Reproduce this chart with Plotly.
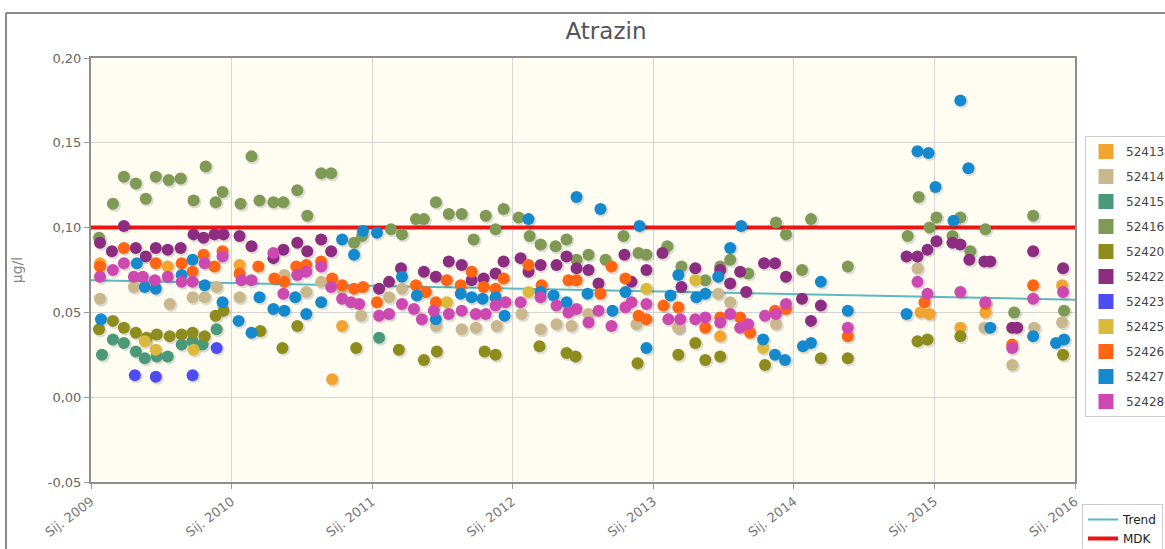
import plotly.graph_objects as go
from datetime import datetime, timedelta

# ---------------- data (fractional year, value in µg/l) ----------------
series_names = ["52413", "52414", "52415", "52416", "52420", "52422",
                "52423", "52425", "52426", "52427", "52428"]

t_52413 = [2009.064, 2009.546, 2010.057, 2010.716, 2010.787, 2013.177, 2013.475,
           2014.901, 2014.965, 2015.184, 2015.362, 2015.908]
v_52413 = [0.079, 0.077, 0.078, 0.0106, 0.042, 0.041, 0.036,
           0.050, 0.049, 0.041, 0.050, 0.066]

t_52414 = [2009.064, 2009.305, 2009.560, 2009.723, 2009.809, 2009.894, 2010.057, 2010.376,
           2010.532, 2010.638, 2010.787, 2010.922, 2011.121, 2011.213, 2011.454, 2011.638,
           2011.738, 2011.887, 2012.064, 2012.199, 2012.312, 2012.418, 2012.539, 2012.879,
           2013.177, 2013.461, 2013.546, 2013.872, 2014.879, 2015.355, 2015.553, 2015.709,
           2015.908]
v_52414 = [0.058, 0.065, 0.055, 0.059, 0.059, 0.065, 0.059, 0.072,
           0.062, 0.068, 0.064, 0.048, 0.059, 0.064, 0.042, 0.040,
           0.041, 0.042, 0.049, 0.040, 0.043, 0.042, 0.049, 0.043,
           0.041, 0.061, 0.056, 0.043, 0.076, 0.041, 0.019, 0.041,
           0.044]

t_52415 = [2009.078, 2009.156, 2009.234, 2009.319, 2009.383, 2009.468, 2009.546,
           2009.645, 2009.723, 2009.794, 2009.894, 2011.050]
v_52415 = [0.025, 0.034, 0.032, 0.027, 0.023, 0.024, 0.024,
           0.031, 0.033, 0.031, 0.040, 0.035]

t_52416 = [2009.057, 2009.156, 2009.234, 2009.319, 2009.390, 2009.461, 2009.553, 2009.638,
           2009.730, 2009.816, 2009.887, 2009.936, 2010.064, 2010.142, 2010.199, 2010.298,
           2010.369, 2010.468, 2010.539, 2010.638, 2010.709, 2010.872, 2010.929, 2011.135,
           2011.213, 2011.312, 2011.369, 2011.454, 2011.546, 2011.638, 2011.723, 2011.809,
           2011.879, 2011.936, 2012.043, 2012.121, 2012.199, 2012.305, 2012.383, 2012.454,
           2012.539, 2012.660, 2012.787, 2012.894, 2012.950, 2013.099, 2013.199, 2013.369,
           2013.475, 2013.546, 2013.674, 2013.872, 2013.943, 2014.057, 2014.121, 2014.383,
           2014.809, 2014.887, 2014.965, 2015.014, 2015.128, 2015.184, 2015.255, 2015.362,
           2015.567, 2015.702, 2015.922]
v_52416 = [0.094, 0.114, 0.130, 0.126, 0.117, 0.130, 0.128, 0.129,
           0.116, 0.136, 0.115, 0.121, 0.114, 0.142, 0.116, 0.115,
           0.115, 0.122, 0.107, 0.132, 0.132, 0.091, 0.095, 0.099,
           0.096, 0.105, 0.105, 0.115, 0.108, 0.108, 0.093, 0.107,
           0.099, 0.111, 0.106, 0.095, 0.090, 0.089, 0.093, 0.081,
           0.084, 0.081, 0.095, 0.085, 0.084, 0.089, 0.077, 0.069,
           0.077, 0.081, 0.073, 0.103, 0.096, 0.075, 0.105, 0.077,
           0.095, 0.118, 0.100, 0.106, 0.095, 0.106, 0.086, 0.099,
           0.050, 0.107, 0.051]

t_52420 = [2009.057, 2009.156, 2009.234, 2009.319, 2009.397, 2009.468, 2009.560, 2009.645,
           2009.723, 2009.809, 2009.887, 2009.943, 2010.206, 2010.362, 2010.468, 2010.887,
           2011.191, 2011.369, 2011.461, 2011.801, 2011.879, 2012.191, 2012.383, 2012.447,
           2012.887, 2013.177, 2013.298, 2013.369, 2013.475, 2013.794, 2014.191, 2014.383,
           2014.879, 2014.950, 2015.184, 2015.915]
v_52420 = [0.040, 0.045, 0.041, 0.038, 0.035, 0.037, 0.036, 0.037,
           0.038, 0.036, 0.048, 0.051, 0.039, 0.029, 0.042, 0.029,
           0.028, 0.022, 0.027, 0.027, 0.025, 0.030, 0.026, 0.024,
           0.020, 0.025, 0.032, 0.022, 0.024, 0.019, 0.023, 0.023,
           0.033, 0.034, 0.036, 0.025]

t_52422 = [2009.064, 2009.149, 2009.234, 2009.319, 2009.390, 2009.461, 2009.546, 2009.638,
           2009.730, 2009.801, 2009.879, 2009.943, 2010.057, 2010.142, 2010.298, 2010.369,
           2010.468, 2010.539, 2010.638, 2010.709, 2011.050, 2011.121, 2011.206, 2011.369,
           2011.454, 2011.546, 2011.638, 2011.709, 2011.794, 2011.879, 2011.936, 2012.057,
           2012.113, 2012.199, 2012.312, 2012.383, 2012.454, 2012.539, 2012.610, 2012.794,
           2012.844, 2012.950, 2013.064, 2013.199, 2013.298, 2013.475, 2013.546, 2013.617,
           2013.660, 2013.787, 2013.865, 2013.943, 2014.057, 2014.121, 2014.191, 2014.801,
           2014.879, 2014.950, 2015.014, 2015.128, 2015.184, 2015.248, 2015.355, 2015.397,
           2015.553, 2015.589, 2015.702, 2015.915]
v_52422 = [0.091, 0.086, 0.101, 0.088, 0.083, 0.088, 0.087, 0.088,
           0.096, 0.094, 0.096, 0.096, 0.095, 0.089, 0.082, 0.087,
           0.091, 0.086, 0.093, 0.086, 0.064, 0.068, 0.076, 0.074,
           0.071, 0.080, 0.078, 0.069, 0.070, 0.073, 0.080, 0.082,
           0.074, 0.078, 0.078, 0.083, 0.076, 0.075, 0.067, 0.084,
           0.068, 0.075, 0.085, 0.065, 0.076, 0.075, 0.067, 0.074,
           0.062, 0.079, 0.079, 0.071, 0.058, 0.045, 0.054, 0.083,
           0.083, 0.087, 0.092, 0.091, 0.090, 0.081, 0.080, 0.080,
           0.041, 0.041, 0.086, 0.076]

t_52423 = [2009.312, 2009.461, 2009.723, 2009.894]
v_52423 = [0.013, 0.012, 0.013, 0.029]

t_52425 = [2009.383, 2009.461, 2009.730, 2011.532, 2012.113, 2012.950, 2013.298, 2013.780]
v_52425 = [0.033, 0.028, 0.028, 0.056, 0.062, 0.064, 0.069, 0.029]

t_52426 = [2009.064, 2009.234, 2009.461, 2009.645, 2009.723, 2009.801, 2009.879, 2009.936,
           2010.057, 2010.191, 2010.305, 2010.376, 2010.461, 2010.532, 2010.638, 2010.716,
           2010.787, 2010.872, 2010.936, 2011.035, 2011.312, 2011.383, 2011.454, 2011.532,
           2011.631, 2011.709, 2011.794, 2011.879, 2011.936, 2012.113, 2012.206, 2012.397,
           2012.454, 2012.624, 2012.702, 2012.801, 2012.894, 2012.950, 2013.071, 2013.177,
           2013.369, 2013.475, 2013.617, 2013.688, 2013.865, 2013.943, 2014.383, 2014.929,
           2015.362, 2015.553, 2015.702]
v_52426 = [0.077, 0.088, 0.079, 0.079, 0.074, 0.084, 0.077, 0.086,
           0.073, 0.077, 0.070, 0.068, 0.077, 0.078, 0.080, 0.070,
           0.066, 0.064, 0.065, 0.056, 0.066, 0.062, 0.056, 0.069,
           0.066, 0.074, 0.065, 0.064, 0.070, 0.078, 0.066, 0.069,
           0.069, 0.061, 0.077, 0.070, 0.048, 0.046, 0.054, 0.053,
           0.041, 0.047, 0.047, 0.038, 0.051, 0.052, 0.036, 0.056,
           0.055, 0.031, 0.066]

t_52427 = [2009.071, 2009.326, 2009.383, 2009.461, 2009.645, 2009.723, 2009.809, 2009.936,
           2010.050, 2010.142, 2010.199, 2010.298, 2010.376, 2010.454, 2010.532, 2010.638,
           2010.787, 2010.872, 2010.936, 2011.035, 2011.213, 2011.319, 2011.454, 2011.631,
           2011.709, 2011.787, 2011.879, 2011.943, 2012.113, 2012.199, 2012.291, 2012.383,
           2012.454, 2012.532, 2012.624, 2012.709, 2012.801, 2012.901, 2012.950, 2013.121,
           2013.177, 2013.305, 2013.369, 2013.461, 2013.546, 2013.624, 2013.780, 2013.865,
           2013.936, 2014.064, 2014.121, 2014.191, 2014.383, 2014.801, 2014.879, 2014.957,
           2015.007, 2015.135, 2015.184, 2015.241, 2015.397, 2015.702, 2015.865, 2015.922]
v_52427 = [0.046, 0.079, 0.065, 0.064, 0.072, 0.081, 0.066, 0.056,
           0.045, 0.038, 0.059, 0.052, 0.051, 0.059, 0.049, 0.056,
           0.093, 0.084, 0.098, 0.097, 0.071, 0.060, 0.046, 0.061,
           0.059, 0.058, 0.059, 0.048, 0.105, 0.062, 0.060, 0.056,
           0.118, 0.061, 0.111, 0.051, 0.062, 0.101, 0.029, 0.060,
           0.072, 0.059, 0.061, 0.071, 0.088, 0.101, 0.034, 0.025,
           0.022, 0.030, 0.032, 0.068, 0.051, 0.049, 0.145, 0.144,
           0.124, 0.104, 0.175, 0.135, 0.041, 0.036, 0.032, 0.034]

t_52428 = [2009.064, 2009.156, 2009.234, 2009.305, 2009.369, 2009.454, 2009.546, 2009.645,
           2009.723, 2009.809, 2009.936, 2010.071, 2010.142, 2010.298, 2010.369, 2010.468,
           2010.532, 2010.638, 2010.709, 2010.787, 2010.851, 2010.908, 2011.050, 2011.121,
           2011.213, 2011.298, 2011.355, 2011.440, 2011.546, 2011.638, 2011.738, 2011.809,
           2011.879, 2011.950, 2012.057, 2012.199, 2012.312, 2012.397, 2012.454, 2012.539,
           2012.610, 2012.702, 2012.801, 2012.844, 2012.950, 2013.106, 2013.191, 2013.298,
           2013.369, 2013.475, 2013.546, 2013.617, 2013.674, 2013.794, 2013.872, 2013.943,
           2014.383, 2014.879, 2014.950, 2015.184, 2015.362, 2015.553, 2015.702, 2015.915]
v_52428 = [0.071, 0.075, 0.079, 0.071, 0.071, 0.069, 0.071, 0.068,
           0.068, 0.079, 0.083, 0.069, 0.069, 0.085, 0.061, 0.072,
           0.074, 0.077, 0.065, 0.058, 0.056, 0.055, 0.048, 0.049,
           0.055, 0.052, 0.046, 0.051, 0.049, 0.051, 0.049, 0.049,
           0.054, 0.056, 0.056, 0.059, 0.054, 0.050, 0.052, 0.044,
           0.051, 0.042, 0.053, 0.056, 0.055, 0.046, 0.046, 0.046,
           0.047, 0.044, 0.049, 0.041, 0.043, 0.048, 0.049, 0.055,
           0.041, 0.068, 0.061, 0.062, 0.056, 0.029, 0.058, 0.062]

series_t = [t_52413, t_52414, t_52415, t_52416, t_52420, t_52422,
            t_52423, t_52425, t_52426, t_52427, t_52428]
series_v = [v_52413, v_52414, v_52415, v_52416, v_52420, v_52422,
            v_52423, v_52425, v_52426, v_52427, v_52428]
series_colors = ["#F2A431", "#C9B78E", "#4A9A7A", "#7E9A55", "#8D8C1C", "#8C2D82",
                 "#4C4CF2", "#DAB93B", "#FF6512", "#1589CE", "#CD49B1"]

trend_t = [2009.0, 2016.0]
trend_v = [0.069, 0.0575]
mdk_t = [2009.0, 2016.0]
mdk_v = [0.10, 0.10]

x_tick_years = [2009, 2010, 2011, 2012, 2013, 2014, 2015, 2016]
x_tick_labels = ["Sij. 2009", "Sij. 2010", "Sij. 2011", "Sij. 2012",
                 "Sij. 2013", "Sij. 2014", "Sij. 2015", "Sij. 2016"]
y_tick_vals = [-0.05, 0.0, 0.05, 0.10, 0.15, 0.20]
y_tick_labels = ["-0,05", "0,00", "0,05", "0,10", "0,15", "0,20"]
y_range = [-0.05, 0.20]
x_range_years = [2009.0, 2016.0]


def to_date(fy):
    y = int(fy)
    start = datetime(y, 1, 1)
    days = (datetime(y + 1, 1, 1) - start).days
    return start + timedelta(days=(fy - y) * days)


# ---------------- figure ----------------
W, H = 1165, 549
ML, MR, MT, MB = 91, 90, 58, 67
PW, PH = W - ML - MR, H - MT - MB


def px_x(px):
    return (px - ML) / PW


def px_y(py):
    return (H - MB - py) / PH


FONT = "DejaVu Sans"
fig = go.Figure()

x0d, x1d = to_date(x_range_years[0]), to_date(x_range_years[1])

# soft drop shadow: same data on a hidden overlay axis pair shifted by ~1.5 px
SH = 1.5
shift_t = (x1d - x0d) * (SH / PW)
shift_v = (y_range[1] - y_range[0]) * (SH / PH)

# reference lines (main axes, bottom layer)
fig.add_trace(go.Scatter(x=[to_date(t) for t in trend_t], y=trend_v, mode="lines",
                         name="Trend", line=dict(color="#5DB9C0", width=2),
                         legend="legend2", hoverinfo="skip"))
fig.add_trace(go.Scatter(x=[to_date(t) for t in mdk_t], y=mdk_v, mode="lines",
                         name="MDK", line=dict(color="#EC1515", width=4),
                         legend="legend2", hoverinfo="skip"))

# shadows (overlay x2/y2)
for ts, vs in zip(series_t, series_v):
    fig.add_trace(go.Scatter(x=[to_date(t) for t in ts], y=vs, mode="markers",
                             xaxis="x2", yaxis="y2", showlegend=False, hoverinfo="skip",
                             marker=dict(size=13, color="rgba(0,0,0,0.13)",
                                         line=dict(width=0))))

# points (overlay x3/y3, same scale as main axes)
for name, ts, vs, col in zip(series_names, series_t, series_v, series_colors):
    fig.add_trace(go.Scatter(x=[to_date(t) for t in ts], y=vs, mode="markers",
                             xaxis="x3", yaxis="y3",
                             name=name, legendgroup=name, showlegend=False,
                             marker=dict(size=12, color=col, line=dict(width=0))))
    # legend entry with square symbol
    fig.add_trace(go.Scatter(x=[None], y=[None], mode="markers", name=name,
                             xaxis="x3", yaxis="y3",
                             legendgroup=name, showlegend=True, legend="legend",
                             marker=dict(size=15, symbol="square", color=col)))

fig.update_layout(
    width=W, height=H,
    margin=dict(l=ML, r=MR, t=MT, b=MB, autoexpand=False),
    paper_bgcolor="white",
    plot_bgcolor="#FFFCF2",
    font=dict(family=FONT, size=13, color="#666"),
    title=dict(text="Atrazin", x=606 / W, xanchor="center", y=1 - 31 / H, yanchor="middle",
               xref="container",
               font=dict(family=FONT, size=23, color="#555")),
    showlegend=True,
    legend=dict(x=px_x(1085), y=px_y(136), xanchor="left", yanchor="top",
                bgcolor="white", bordercolor="#CCCCCC", borderwidth=1,
                font=dict(family=FONT, size=12, color="#444"),
                tracegroupgap=6, itemclick=False, itemdoubleclick=False),
    legend2=dict(x=px_x(1082), y=px_y(504), xanchor="left", yanchor="top",
                 bgcolor="white", bordercolor="#CCCCCC", borderwidth=1,
                 font=dict(family=FONT, size=12, color="#222"),
                 tracegroupgap=0),
    xaxis=dict(type="date", range=[x0d, x1d],
               tickvals=[to_date(y) for y in x_tick_years], ticktext=x_tick_labels,
               tickangle=-37, showgrid=True, gridcolor="#D5D5D5", gridwidth=1,
               showline=True, linecolor="#8E8E8E", linewidth=2, mirror=True,
               ticks="outside", ticklen=5, tickcolor="#999", zeroline=False,
               tickfont=dict(family=FONT, size=13, color="#777")),
    yaxis=dict(range=y_range, tickvals=y_tick_vals, ticktext=y_tick_labels,
               showgrid=True, gridcolor="#D5D5D5", gridwidth=1,
               showline=True, linecolor="#8E8E8E", linewidth=2, mirror=True,
               ticks="outside", ticklen=5, tickcolor="#999", zeroline=False,
               tickfont=dict(family=FONT, size=13, color="#666"),
               title=dict(text="µg/l", standoff=22,
                          font=dict(family=FONT, size=14, color="#888"))),
    xaxis2=dict(type="date", overlaying="x", visible=False,
                range=[x0d - shift_t, x1d - shift_t]),
    yaxis2=dict(overlaying="y", visible=False,
                range=[y_range[0] + shift_v, y_range[1] + shift_v]),
    xaxis3=dict(type="date", overlaying="x", visible=False, range=[x0d, x1d]),
    yaxis3=dict(overlaying="y", visible=False, range=y_range),
    shapes=[
        dict(type="line", xref="paper", yref="paper", x0=px_x(6), x1=px_x(6),
             y0=px_y(13), y1=px_y(560), line=dict(color="#8A8A8A", width=2)),
        dict(type="line", xref="paper", yref="paper", x0=px_x(6), x1=px_x(1175),
             y0=px_y(13), y1=px_y(13), line=dict(color="#8A8A8A", width=2)),
    ],
)

fig.write_html("out.html", config={"displayModeBar": False},
               post_script="document.body.style.margin='0';"
                           "document.body.style.overflow='hidden';")
